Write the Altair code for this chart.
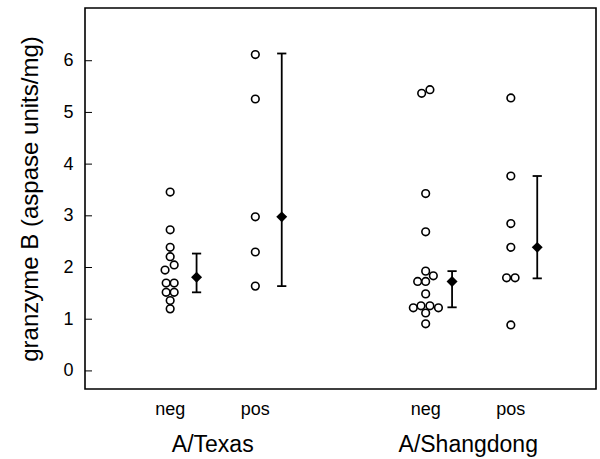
import altair as alt
import pandas as pd

# ---- data ----
strains = ["A/Texas", "A/Texas", "A/Shangdong", "A/Shangdong"]
status = ["neg", "pos", "neg", "pos"]
slot = [1, 2, 4, 5]

tx_neg = [3.46, 2.73, 2.39, 2.21, 2.05, 1.95, 1.70, 1.70, 1.52, 1.52, 1.36, 1.20]
tx_neg_dodge = [0, 0, 0, 0, 0.047, -0.06, -0.047, 0.047, -0.047, 0.047, 0, 0]
tx_pos = [6.12, 5.26, 2.98, 2.30, 1.64]
tx_pos_dodge = [0, 0, 0, 0, 0]
sd_neg = [5.37, 5.44, 3.43, 2.69, 1.93, 1.84, 1.73, 1.73, 1.49,
          1.22, 1.26, 1.26, 1.22, 1.12, 0.91]
sd_neg_dodge = [-0.047, 0.05, 0, 0, 0, 0.09, -0.094, 0, 0,
                -0.145, -0.055, 0.05, 0.15, 0, 0]
sd_pos = [5.28, 3.77, 2.85, 2.39, 1.80, 1.80, 0.89]
sd_pos_dodge = [0, 0, 0, 0, -0.05, 0.05, 0]

means = [1.81, 2.98, 1.73, 2.39]
err_lo = [1.52, 1.64, 1.23, 1.79]
err_hi = [2.27, 6.14, 1.93, 3.77]
bar_shift = 0.31

y_ticks = [0, 1, 2, 3, 4, 5, 6]
y_title = "granzyme B (aspase units/mg)"

# ---- tables ----
groups_vals = [tx_neg, tx_pos, sd_neg, sd_pos]
groups_dodge = [tx_neg_dodge, tx_pos_dodge, sd_neg_dodge, sd_pos_dodge]
rows = []
for i, (vals, dodge) in enumerate(zip(groups_vals, groups_dodge)):
    for v, d in zip(vals, dodge):
        rows.append({"x": slot[i] + d, "value": v, "group": strains[i] + " " + status[i]})
pts = pd.DataFrame(rows)

summ = pd.DataFrame({
    "x": [s + bar_shift for s in slot],
    "value": means, "lo": err_lo, "hi": err_hi,
})
caps = pd.DataFrame({
    "x": [s + bar_shift for s in slot] * 2,
    "value": err_lo + err_hi,
})
cat = pd.DataFrame({"x": slot, "label": status})
grp = pd.DataFrame({"x": slot, "strain": strains}).groupby("strain", sort=False, as_index=False)["x"].mean()
ticks = pd.DataFrame({"value": y_ticks})

FONT = "Liberation Sans"
xscale = alt.Scale(domain=[0, 6], nice=False, zero=False)
yscale = alt.Scale(domain=[-0.35, 7.02], nice=False, zero=False)
yaxis = alt.Axis(values=y_ticks, title=y_title, ticks=False, domain=False, grid=False,
                 labelPadding=12, labelFontSize=18, labelFont=FONT, labelColor="black",
                 titleFontSize=24, titleFont=FONT, titleFontWeight="normal",
                 titleColor="black", titlePadding=20)


def X():
    return alt.X("x:Q", scale=xscale, axis=None)


def Y(field="value"):
    return alt.Y(f"{field}:Q", scale=yscale, axis=yaxis)


tick_layer = alt.Chart(ticks).mark_rule(color="black", strokeWidth=1).encode(
    y=Y(), x=alt.value(0), x2=alt.value(7)
)

point_layer = alt.Chart(pts).mark_point(
    shape="circle", filled=False, fill="white", fillOpacity=1, stroke="black",
    strokeWidth=1.6, size=58, opacity=1
).encode(x=X(), y=Y())

rule_layer = alt.Chart(summ).mark_rule(color="black", strokeWidth=1.8).encode(
    x=X(), y=Y("lo"), y2="hi:Q"
)

cap_layer = alt.Chart(caps).mark_point(
    shape="stroke", filled=False, stroke="black", strokeWidth=1.8, size=85, opacity=1
).encode(x=X(), y=Y())

mean_layer = alt.Chart(summ).mark_point(
    shape="diamond", filled=True, color="black", size=120, opacity=1
).encode(x=X(), y=Y())

cat_layer = alt.Chart(cat).mark_text(
    font=FONT, fontSize=18, color="black", baseline="middle"
).encode(x=X(), y=alt.value(402), text="label:N")

grp_layer = alt.Chart(grp).mark_text(
    font=FONT, fontSize=23, color="black", baseline="middle"
).encode(x=X(), y=alt.value(437), text="strain:N")

chart = alt.layer(
    tick_layer, rule_layer, cap_layer, point_layer, mean_layer, cat_layer, grp_layer
).properties(
    width=511, height=381,
    padding={"left": 85, "top": 8, "right": 4, "bottom": 70},
    autosize="none",
    background="white",
).configure_view(stroke="black", strokeWidth=1.6)

chart.save("out.html", embed_options={"renderer": "svg", "actions": False})
